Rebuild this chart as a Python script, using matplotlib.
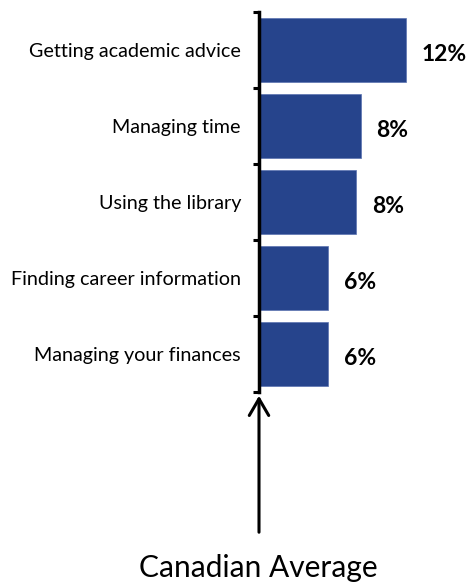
import matplotlib.pyplot as plt
import numpy as np

categories = ['Getting academic advice', 'Managing time', 'Using the library',
              'Finding career information', 'Managing your finances']
values = [12.0, 8.3, 7.9, 5.6, 5.6]
labels = ['12%', '8%', '8%', '6%', '6%']

plt.rcParams['font.family'] = ['Lato', 'DejaVu Sans']

fig = plt.figure(figsize=(4.71, 5.84), dpi=100)
ax = fig.add_axes([259 / 471, 1 - 392 / 584, 206 / 471, 380 / 584])

y = np.arange(len(categories))
ax.barh(y, values, height=0.83, color='#26448C', edgecolor='#5a72b0', linewidth=0.5)

for yi, v, lab in zip(y, values, labels):
    ax.text(v + 1.3, yi + 0.06, lab, va='center', ha='left', fontsize=16.5, fontweight='bold')

ax.set_xlim(0, 206 / 12.25)
ax.set_ylim(len(categories) - 0.5, -0.5)

# category names, no tick marks
ax.set_yticks(y)
ax.set_yticklabels(categories, fontsize=14.2)
ax.tick_params(axis='y', which='major', length=0, pad=13)
# short marks between categories
ax.set_yticks(np.arange(-0.5, len(categories)), minor=True)
ax.tick_params(axis='y', which='minor', length=4, width=2.2, direction='out')
ax.set_xticks([])

for s in ['top', 'right', 'bottom']:
    ax.spines[s].set_visible(False)
ax.spines['left'].set_linewidth(2.5)

# arrow pointing up to the axis
fig.patches.append(plt.matplotlib.patches.FancyArrowPatch(
    (259 / 471, 1 - 535 / 584), (259 / 471, 1 - 393 / 584),
    transform=fig.transFigure, arrowstyle='->,head_length=12,head_width=7',
    linewidth=2.2, color='black', mutation_scale=1))

fig.text(258 / 471, 1 - 568 / 584, 'Canadian Average', ha='center', va='center', fontsize=21.5)

fig.savefig('out.png', dpi=100)
